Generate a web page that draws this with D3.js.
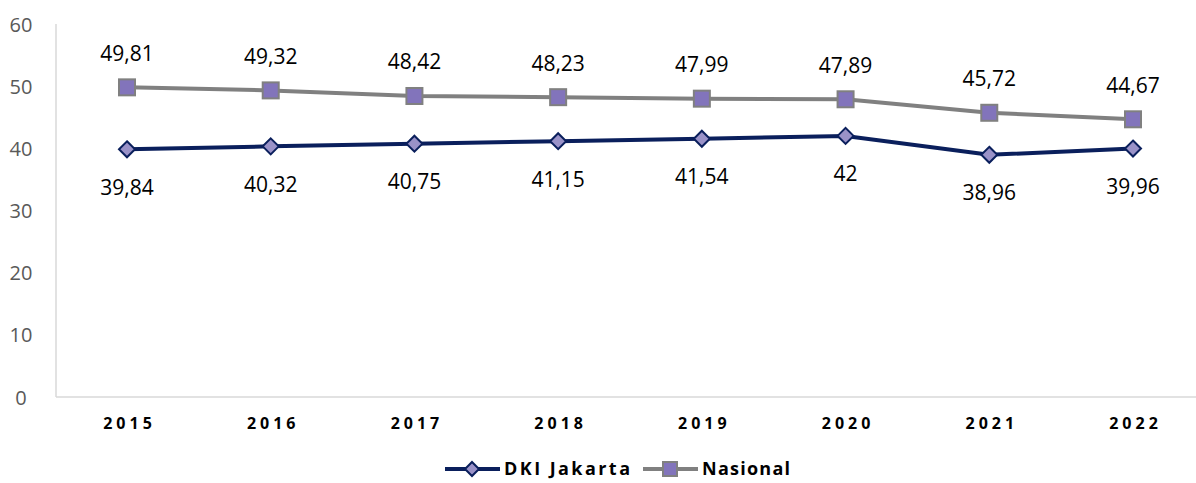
<!DOCTYPE html>
<html><head><meta charset="utf-8">
<script src="https://cdn.jsdelivr.net/npm/d3@7"></script>
<style>body{margin:0;background:#fff}svg{display:block}</style>
</head><body>
<svg id="c" width="1196" height="483"></svg>
<script>
const years = ["2015","2016","2017","2018","2019","2020","2021","2022"];
const dki = [39.84,40.32,40.75,41.15,41.54,42,38.96,39.96];
const nasional = [49.81,49.32,48.42,48.23,47.99,47.89,45.72,44.67];
const yTicks = [0,10,20,30,40,50,60];
const seriesNames = ["DKI Jakarta","Nasional"];

const svg = d3.select("#c");
const x = d3.scalePoint().domain(years).range([127,1133]);
const y = d3.scaleLinear().domain([0,60]).range([397,24]);
const fmt = v => String(v).replace(".", ",");
const FF = "Open Sans, sans-serif";

svg.append("line").attr("x1",56).attr("x2",56).attr("y1",y(60)).attr("y2",y(0)).attr("stroke","#d9d9d9").attr("stroke-width",1.5);
svg.append("line").attr("x1",56).attr("x2",1196).attr("y1",y(0)).attr("y2",y(0)).attr("stroke","#d9d9d9").attr("stroke-width",1.5);

const yAxis = d3.axisLeft(y).tickValues(yTicks).tickSize(0).tickPadding(0);
const gy = svg.append("g").attr("transform","translate(21,0)").call(yAxis);
gy.select(".domain").remove();
gy.selectAll("text").attr("font-family",FF).attr("font-size",20).attr("fill","#595959").attr("text-anchor","middle").attr("dy","0.35em");

const xAxis = d3.axisBottom(x).tickSize(0).tickPadding(0);
const gx = svg.append("g").attr("transform","translate(0,423)").call(xAxis);
gx.select(".domain").remove();
gx.selectAll("text").attr("font-family",FF).attr("font-size",16).attr("font-weight","bold").attr("fill","#000").attr("letter-spacing","4px").attr("dy","0.35em").attr("dx","2px");

const line = d3.line().x((d,i)=>x(years[i])).y(d=>y(d));

svg.append("path").datum(nasional).attr("d",line).attr("fill","none").attr("stroke","#808080").attr("stroke-width",4);
svg.selectAll(".sq").data(nasional).enter().append("rect")
  .attr("x",(d,i)=>x(years[i])-8).attr("y",d=>y(d)-8).attr("width",16).attr("height",16)
  .attr("fill","#8274bb").attr("stroke","#808080").attr("stroke-width",2);
svg.selectAll(".nl").data(nasional).enter().append("text")
  .attr("x",(d,i)=>x(years[i])).attr("y",d=>y(d)-34).attr("dy","0.35em")
  .attr("text-anchor","middle").attr("font-family",FF).attr("font-size",21).attr("fill","#000")
  .text(fmt);

svg.append("path").datum(dki).attr("d",line).attr("fill","none").attr("stroke","#0a1f5c").attr("stroke-width",4);
const diamond = (cx,cy,r)=>`M${cx},${cy-r}L${cx+r},${cy}L${cx},${cy+r}L${cx-r},${cy}Z`;
svg.selectAll(".dm").data(dki).enter().append("path")
  .attr("d",(d,i)=>diamond(x(years[i]),y(d),8))
  .attr("fill","#9a92c8").attr("stroke","#0a1f5c").attr("stroke-width",2);
svg.selectAll(".dl").data(dki).enter().append("text")
  .attr("x",(d,i)=>x(years[i])).attr("y",d=>y(d)+38).attr("dy","0.35em")
  .attr("text-anchor","middle").attr("font-family",FF).attr("font-size",21).attr("fill","#000")
  .text(fmt);

const ly = 469;
const lg = svg.append("g");
lg.append("line").attr("x1",445).attr("x2",500).attr("y1",ly).attr("y2",ly).attr("stroke","#0a1f5c").attr("stroke-width",4);
lg.append("path").attr("d",diamond(472,ly,7)).attr("fill","#9a92c8").attr("stroke","#0a1f5c").attr("stroke-width",2);
lg.append("text").attr("x",504).attr("y",ly).attr("dy","0.35em").attr("font-family",FF).attr("font-size",18).attr("font-weight","bold").attr("textLength",126).text(seriesNames[0]);
lg.append("line").attr("x1",643).attr("x2",698).attr("y1",ly).attr("y2",ly).attr("stroke","#808080").attr("stroke-width",4);
lg.append("rect").attr("x",663).attr("y",ly-7).attr("width",14).attr("height",14).attr("fill","#8274bb").attr("stroke","#808080").attr("stroke-width",2);
lg.append("text").attr("x",702).attr("y",ly).attr("dy","0.35em").attr("font-family",FF).attr("font-size",18).attr("font-weight","bold").attr("textLength",88).text(seriesNames[1]);
</script>
</body></html>
